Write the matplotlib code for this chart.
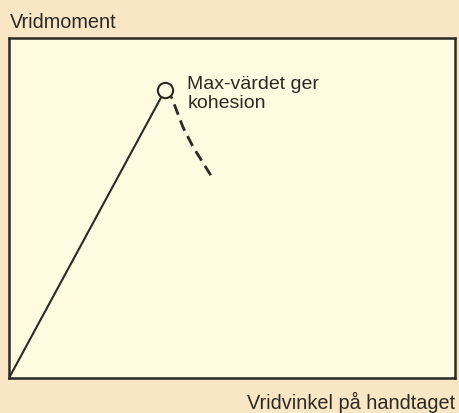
import matplotlib
matplotlib.use("Agg")
import matplotlib.pyplot as plt

plt.rcParams['font.family'] = ['Liberation Sans', 'DejaVu Sans']

# rising part (origin to peak) and falling part after the peak
rise_x = [0, 35.0]
rise_y = [0, 84.7]
fall_x = [35.0, 36.5, 39.0, 41.3, 45.5]
fall_y = [84.7, 82.4, 73.8, 67.9, 59.1]
peak_x, peak_y = 35.0, 84.7

y_label = "Vridmoment"
x_label = "Vridvinkel på handtaget"
note = "Max-värdet ger\nkohesion"

ink = '#2b2a24'
fig = plt.figure(figsize=(4.6, 4.13), dpi=100, facecolor='#f9e6c5')
ax = fig.add_axes([9/460, 35/413, 446/460, 340/413])
ax.set_facecolor('#fffbe1')

ax.plot(rise_x, rise_y, color=ink, lw=1.5, solid_capstyle='butt')
ax.plot(fall_x, fall_y, color=ink, lw=2.0, dashes=(4, 2.2))
ax.plot([peak_x], [peak_y], 'o', ms=11, mfc='#fffbe1', mec=ink, mew=1.5)

ax.text(peak_x + 5, peak_y - 1.2, note, fontsize=14, color=ink,
        va='center', ha='left', linespacing=1.15)

ax.set_xlim(0, 100)
ax.set_ylim(0, 100)
ax.set_xticks([])
ax.set_yticks([])
for s in ax.spines.values():
    s.set_color(ink)
    s.set_linewidth(1.8)

fig.text(10/460, 1 - 22/413, y_label, fontsize=14.3, color=ink, va='center', ha='left')
fig.text(455/460, 1 - 402/413, x_label, fontsize=14.3, color=ink, va='center', ha='right')

fig.savefig("out.png", dpi=100, facecolor=fig.get_facecolor())
